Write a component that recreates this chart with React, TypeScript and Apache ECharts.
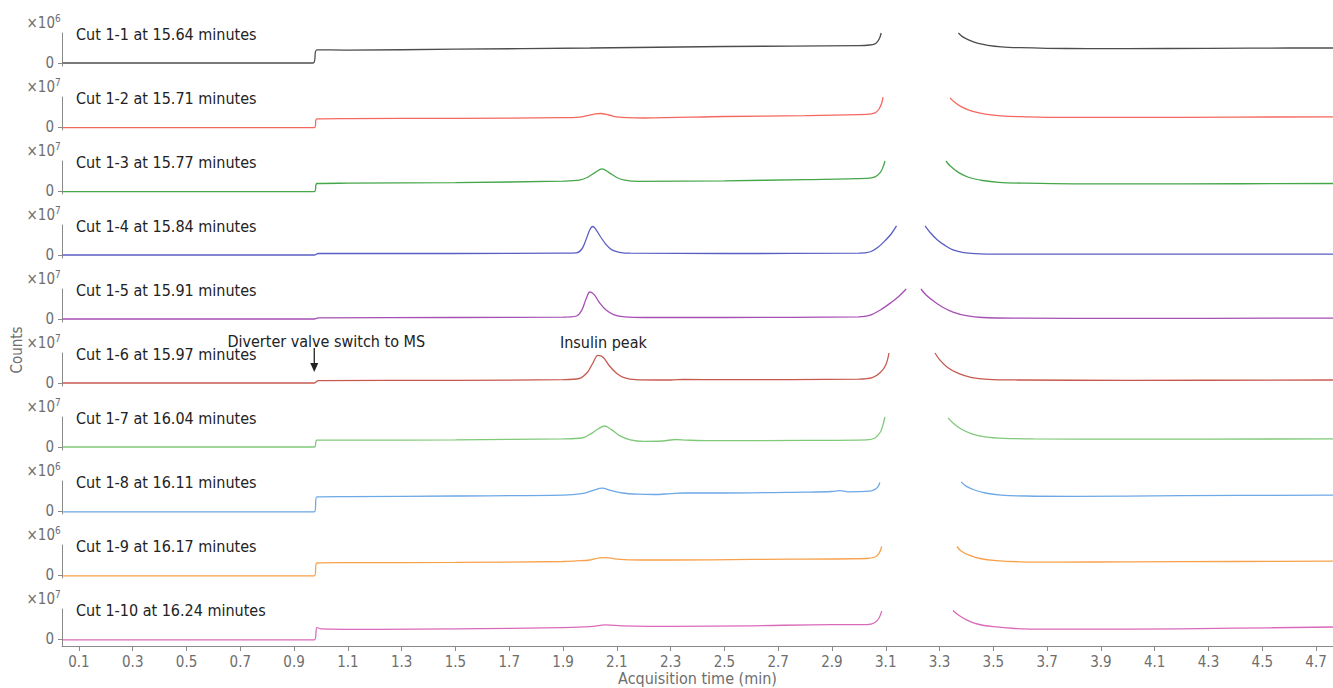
import React, { useEffect, useRef } from "react";
import * as echarts from "echarts";

const X_MIN = 0.037;
const X_MAX = 4.763;
const X_TICKS = [0.1, 0.3, 0.5, 0.7, 0.9, 1.1, 1.3, 1.5, 1.7, 1.9, 2.1, 2.3, 2.5, 2.7, 2.9, 3.1, 3.3, 3.5, 3.7, 3.9, 4.1, 4.3, 4.5, 4.7];
const X_TITLE = "Acquisition time (min)";
const Y_TITLE = "Counts";

const PANEL_TITLES = [
  "Cut 1-1 at 15.64 minutes",
  "Cut 1-2 at 15.71 minutes",
  "Cut 1-3 at 15.77 minutes",
  "Cut 1-4 at 15.84 minutes",
  "Cut 1-5 at 15.91 minutes",
  "Cut 1-6 at 15.97 minutes",
  "Cut 1-7 at 16.04 minutes",
  "Cut 1-8 at 16.11 minutes",
  "Cut 1-9 at 16.17 minutes",
  "Cut 1-10 at 16.24 minutes",
];
const EXPONENTS = ["6", "7", "7", "7", "7", "7", "7", "6", "6", "7"];
const COLORS = ["#4d4d4d", "#f4695f", "#45a64a", "#5a5ec4", "#a64fb4", "#c65a50", "#80c97a", "#6ea8e6", "#f8a14c", "#d96ab9"];

// [time (min), counts in panel units]; null = gap in the trace
const cut1 = [[0.04, 0], [0.97, 0], [0.985, 0.44], [1.1, 0.43], [1.5, 0.46], [2.0, 0.5], [2.5, 0.55], [3.0, 0.58], [3.04, 0.6], [3.06, 0.64], [3.07, 0.72], [3.078, 0.85], [3.083, 1.0], [3.2, null], [3.37, 1.0], [3.385, 0.88], [3.41, 0.76], [3.44, 0.66], [3.48, 0.59], [3.53, 0.54], [3.6, 0.51], [3.7, 0.49], [3.85, 0.48], [4.0, 0.48], [4.3, 0.49], [4.6, 0.5], [4.763, 0.5]];
const cut2 = [[0.04, -0.02], [0.975, -0.02], [0.985, 0.27], [1.1, 0.28], [1.5, 0.29], [1.9, 0.31], [1.96, 0.33], [1.99, 0.38], [2.02, 0.44], [2.04, 0.45], [2.07, 0.4], [2.1, 0.34], [2.14, 0.31], [2.2, 0.3], [2.5, 0.35], [2.8, 0.38], [3.03, 0.42], [3.06, 0.47], [3.075, 0.6], [3.085, 0.8], [3.09, 1.0], [3.2, null], [3.339, 0.97], [3.355, 0.83], [3.38, 0.68], [3.42, 0.53], [3.47, 0.43], [3.53, 0.37], [3.62, 0.34], [3.75, 0.32], [4.0, 0.32], [4.4, 0.33], [4.763, 0.34]];
const cut3 = [[0.04, -0.02], [0.975, -0.02], [0.985, 0.25], [1.1, 0.26], [1.5, 0.28], [1.9, 0.33], [1.96, 0.36], [1.99, 0.45], [2.02, 0.62], [2.045, 0.74], [2.07, 0.62], [2.1, 0.45], [2.13, 0.36], [2.18, 0.32], [2.5, 0.34], [2.8, 0.38], [3.03, 0.42], [3.06, 0.47], [3.08, 0.62], [3.09, 0.8], [3.097, 1.0], [3.2, null], [3.324, 1.0], [3.34, 0.83], [3.37, 0.62], [3.41, 0.45], [3.46, 0.35], [3.52, 0.29], [3.62, 0.26], [3.8, 0.24], [4.2, 0.24], [4.763, 0.25]];
const cut4 = [[0.04, 0], [0.975, 0], [0.99, 0.05], [1.5, 0.05], [1.9, 0.06], [1.95, 0.07], [1.97, 0.2], [1.985, 0.5], [2.0, 0.85], [2.01, 0.95], [2.02, 0.88], [2.04, 0.6], [2.06, 0.35], [2.08, 0.18], [2.11, 0.09], [2.15, 0.06], [2.5, 0.05], [3.0, 0.06], [3.04, 0.1], [3.07, 0.25], [3.1, 0.5], [3.12, 0.7], [3.14, 0.97], [3.2, null], [3.246, 0.97], [3.265, 0.75], [3.29, 0.52], [3.32, 0.32], [3.35, 0.17], [3.39, 0.08], [3.45, 0.04], [3.6, 0.03], [4.0, 0.03], [4.763, 0.03]];
const cut5 = [[0.04, 0], [0.975, 0], [0.99, 0.04], [1.5, 0.05], [1.9, 0.06], [1.95, 0.1], [1.97, 0.3], [1.985, 0.65], [2.0, 0.9], [2.015, 0.82], [2.035, 0.55], [2.06, 0.3], [2.09, 0.14], [2.13, 0.07], [2.2, 0.05], [2.5, 0.05], [3.0, 0.07], [3.04, 0.12], [3.08, 0.3], [3.12, 0.55], [3.15, 0.77], [3.176, 1.0], [3.2, null], [3.231, 1.0], [3.25, 0.8], [3.28, 0.58], [3.31, 0.4], [3.35, 0.23], [3.4, 0.11], [3.46, 0.05], [3.6, 0.03], [4.0, 0.02], [4.763, 0.03]];
const cut6 = [[0.04, 0], [0.975, 0], [0.99, 0.08], [1.5, 0.09], [1.9, 0.11], [1.96, 0.15], [1.99, 0.35], [2.01, 0.65], [2.03, 0.92], [2.05, 0.85], [2.07, 0.6], [2.1, 0.32], [2.13, 0.17], [2.17, 0.11], [2.25, 0.1], [2.3, 0.1], [2.35, 0.12], [2.5, 0.11], [3.0, 0.13], [3.05, 0.18], [3.08, 0.35], [3.1, 0.6], [3.112, 1.0], [3.2, null], [3.283, 1.0], [3.3, 0.78], [3.33, 0.52], [3.37, 0.32], [3.42, 0.18], [3.48, 0.12], [3.6, 0.1], [4.0, 0.09], [4.763, 0.1]];
const cut7 = [[0.04, 0], [0.975, 0], [0.985, 0.23], [1.1, 0.23], [1.5, 0.24], [1.9, 0.27], [1.97, 0.3], [2.0, 0.42], [2.03, 0.6], [2.055, 0.7], [2.08, 0.58], [2.11, 0.38], [2.15, 0.24], [2.2, 0.19], [2.27, 0.2], [2.32, 0.25], [2.36, 0.23], [2.45, 0.21], [2.8, 0.22], [3.03, 0.24], [3.06, 0.3], [3.08, 0.5], [3.09, 0.75], [3.097, 1.0], [3.2, null], [3.332, 0.97], [3.35, 0.8], [3.38, 0.6], [3.42, 0.44], [3.47, 0.34], [3.54, 0.29], [3.65, 0.27], [4.0, 0.26], [4.763, 0.27]];
const cut8 = [[0.04, -0.03], [0.975, -0.03], [0.985, 0.47], [1.1, 0.48], [1.5, 0.5], [1.9, 0.53], [1.97, 0.58], [2.01, 0.68], [2.045, 0.76], [2.08, 0.68], [2.12, 0.6], [2.18, 0.56], [2.24, 0.55], [2.3, 0.58], [2.35, 0.6], [2.5, 0.6], [2.8, 0.63], [2.9, 0.65], [2.93, 0.68], [2.96, 0.64], [3.04, 0.66], [3.06, 0.72], [3.072, 0.82], [3.078, 0.95], [3.2, null], [3.38, 0.97], [3.4, 0.82], [3.43, 0.7], [3.47, 0.6], [3.53, 0.53], [3.62, 0.5], [3.8, 0.49], [4.2, 0.51], [4.763, 0.53]];
const cut9 = [[0.04, -0.03], [0.975, -0.03], [0.985, 0.4], [1.1, 0.41], [1.5, 0.42], [1.9, 0.45], [1.95, 0.47], [2.0, 0.5], [2.035, 0.57], [2.06, 0.58], [2.09, 0.54], [2.13, 0.51], [2.2, 0.5], [2.3, 0.5], [2.6, 0.52], [3.03, 0.55], [3.06, 0.6], [3.075, 0.72], [3.085, 0.95], [3.2, null], [3.365, 0.95], [3.38, 0.8], [3.41, 0.66], [3.45, 0.55], [3.51, 0.48], [3.6, 0.44], [3.75, 0.43], [4.0, 0.44], [4.4, 0.45], [4.763, 0.46]];
const cut10 = [[0.04, -0.03], [0.975, -0.03], [0.985, 0.38], [1.0, 0.34], [1.2, 0.32], [1.5, 0.34], [1.9, 0.38], [2.0, 0.41], [2.06, 0.47], [2.12, 0.44], [2.3, 0.42], [2.6, 0.44], [2.9, 0.48], [3.03, 0.48], [3.06, 0.55], [3.075, 0.7], [3.085, 0.93], [3.2, null], [3.35, 0.95], [3.37, 0.8], [3.4, 0.64], [3.44, 0.5], [3.5, 0.41], [3.58, 0.35], [3.7, 0.33], [4.0, 0.33], [4.4, 0.36], [4.763, 0.4]];
const TRACES = [cut1, cut2, cut3, cut4, cut5, cut6, cut7, cut8, cut9, cut10];

const DIVERTER_TIME = 0.975;
const DIVERTER_TEXT = "Diverter valve switch to MS";
const INSULIN_TIME = 2.05;
const INSULIN_TEXT = "Insulin peak";

const FONT = "'Liberation Sans Narrow', 'DejaVu Sans Condensed', 'Roboto Condensed', sans-serif";
const AXIS_COLOR = "#8a8a8a";
const LABEL_COLOR = "#6e6e6e";

const FIRST_ZERO = 63;
const PANEL_STEP = 64;
const PX_PER_UNIT = 30;

export default function App() {
  const ref = useRef<HTMLDivElement>(null);
  useEffect(() => {
    if (!ref.current) return;
    const chart = echarts.init(ref.current, null, { renderer: "svg" });
    const n = TRACES.length;
    const grids: any[] = [];
    const xAxes: any[] = [];
    const yAxes: any[] = [];
    const series: any[] = [];
    for (let i = 0; i < n; i++) {
      const zero = FIRST_ZERO + PANEL_STEP * i;
      const last = i === n - 1;
      const below = last ? 7 : 3;
      const top = zero - PX_PER_UNIT;
      const height = PX_PER_UNIT + below;
      grids.push({ left: 62, right: 0, top, height, outerBoundsMode: "none", containLabel: false });
      xAxes.push({
        type: "value",
        gridIndex: i,
        min: X_MIN,
        max: X_MAX,
        show: last,
        name: last ? X_TITLE : "",
        nameLocation: "middle",
        nameGap: 24,
        nameTextStyle: { fontFamily: FONT, fontSize: 16, color: LABEL_COLOR },
        axisLine: { show: last, onZero: false, lineStyle: { color: AXIS_COLOR, width: 1 } },
        axisTick: { show: last, length: 5, customValues: X_TICKS, lineStyle: { color: AXIS_COLOR } },
        axisLabel: {
          show: last,
          customValues: X_TICKS,
          margin: 8,
          fontFamily: FONT,
          fontSize: 15,
          color: LABEL_COLOR,
          formatter: (v: number) => v.toFixed(1),
        },
        splitLine: { show: false },
      });
      yAxes.push({
        type: "value",
        gridIndex: i,
        min: -below / PX_PER_UNIT,
        max: 1,
        axisLine: { show: true, onZero: false, lineStyle: { color: AXIS_COLOR, width: 1 } },
        axisTick: { show: true, length: 4, customValues: [0], lineStyle: { color: AXIS_COLOR } },
        axisLabel: { show: true, customValues: [0], margin: 8, fontFamily: FONT, fontSize: 15, color: LABEL_COLOR },
        splitLine: { show: false },
      });
      series.push({
        type: "line",
        xAxisIndex: i,
        yAxisIndex: i,
        data: TRACES[i].map((p) => [p[0], p[1] === null ? "-" : p[1]]),
        showSymbol: false,
        smooth: 0.35,
        clip: false,
        connectNulls: false,
        lineStyle: { color: COLORS[i], width: 1.3 },
        itemStyle: { color: COLORS[i] },
      });
    }
    chart.setOption({
      animation: false,
      backgroundColor: "#ffffff",
      grid: grids,
      xAxis: xAxes,
      yAxis: yAxes,
      series,
    });

    const graphics: any[] = [];
    for (let i = 0; i < n; i++) {
      const p0 = chart.convertToPixel({ gridIndex: i } as any, [X_MIN, 0]) as number[];
      const zeroY = p0[1];
      const left = p0[0];
      graphics.push({
        type: "text",
        x: left + 14,
        y: zeroY - 29,
        style: { text: PANEL_TITLES[i], fontFamily: FONT, fontSize: 16, fill: "#222222", textVerticalAlign: "middle", textAlign: "left" },
      });
      graphics.push({
        type: "text",
        x: left - 7,
        y: zeroY - 40,
        style: { text: "×10", fontFamily: FONT, fontSize: 15, fill: LABEL_COLOR, textVerticalAlign: "middle", textAlign: "right" },
      });
      graphics.push({
        type: "text",
        x: left - 7,
        y: zeroY - 45,
        style: { text: EXPONENTS[i], fontFamily: FONT, fontSize: 10, fill: LABEL_COLOR, textVerticalAlign: "middle", textAlign: "left" },
      });
    }
    const pa = chart.convertToPixel({ gridIndex: 5 } as any, [DIVERTER_TIME, 0]) as number[];
    const ax = pa[0];
    const ay0 = pa[1] - 35;
    const ay1 = pa[1] - 11;
    graphics.push({ type: "line", shape: { x1: ax, y1: ay0, x2: ax, y2: ay1 - 6 }, style: { stroke: "#222", lineWidth: 1.3 } });
    graphics.push({ type: "polygon", shape: { points: [[ax - 4, ay1 - 9], [ax + 4, ay1 - 9], [ax, ay1]] }, style: { fill: "#222" } });
    graphics.push({
      type: "text",
      x: ax + 12,
      y: pa[1] - 42,
      style: { text: DIVERTER_TEXT, fontFamily: FONT, fontSize: 16, fill: "#222222", textVerticalAlign: "middle", textAlign: "center" },
    });
    const pi = chart.convertToPixel({ gridIndex: 5 } as any, [INSULIN_TIME, 0]) as number[];
    graphics.push({
      type: "text",
      x: pi[0],
      y: pi[1] - 41,
      style: { text: INSULIN_TEXT, fontFamily: FONT, fontSize: 16, fill: "#222222", textVerticalAlign: "middle", textAlign: "center" },
    });
    graphics.push({
      type: "text",
      x: 17,
      y: 350,
      rotation: Math.PI / 2,
      style: { text: Y_TITLE, fontFamily: FONT, fontSize: 15, fill: LABEL_COLOR, textVerticalAlign: "middle", textAlign: "center" },
    });
    chart.setOption({ graphic: graphics });

    return () => chart.dispose();
  }, []);
  return <div ref={ref} style={{ position: "absolute", left: 0, top: 0, width: 1333, height: 688 }} />;
}
